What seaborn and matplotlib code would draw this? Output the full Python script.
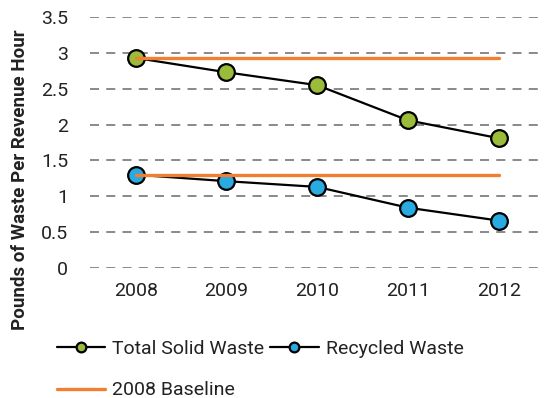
import numpy as np
import pandas as pd
import matplotlib
matplotlib.use("Agg")
import matplotlib.pyplot as plt
import seaborn as sns

years = ["2008", "2009", "2010", "2011", "2012"]
total_solid = [2.93, 2.73, 2.55, 2.06, 1.81]
recycled = [1.30, 1.21, 1.13, 0.84, 0.66]
baseline_total = [2.93] * 5
baseline_recycled = [1.30] * 5
y_ticks = [0, 0.5, 1, 1.5, 2, 2.5, 3, 3.5]
y_tick_labels = ["0", "0.5", "1", "1.5", "2", "2.5", "3", "3.5"]

GREEN = "#9BBB3A"
BLUE = "#29ABE2"
ORANGE = "#F07F33"
TXT = "#222222"

sns.set_theme(style="white")
plt.rcParams['font.family'] = ['Roboto', 'DejaVu Sans']

df = pd.DataFrame({
    "pos": np.arange(len(years)),
    "total": total_solid,
    "recycled": recycled,
    "base_t": baseline_total,
    "base_r": baseline_recycled,
})

fig = plt.figure(figsize=(5.44, 3.98), dpi=100)
ax = fig.add_axes([0.166, 0.327, 0.834, 0.630])

# dashed gridlines
for yv in y_ticks:
    ax.axhline(yv, color="#808080", lw=1.3, ls=(0, (5, 4)), zorder=0)

# 2008 baselines
sns.lineplot(data=df, x="pos", y="base_t", color=ORANGE, lw=2.4, ax=ax,
             label="2008 Baseline", zorder=2)
sns.lineplot(data=df, x="pos", y="base_r", color=ORANGE, lw=2.4, ax=ax,
             label="_nolegend_", zorder=2)

# waste series
sns.lineplot(data=df, x="pos", y="total", color="black", lw=1.6, marker="o",
             markersize=12, markerfacecolor=GREEN, markeredgecolor="black",
             markeredgewidth=1.6, ax=ax, label="Total Solid Waste", zorder=1)
sns.lineplot(data=df, x="pos", y="recycled", color="black", lw=1.6, marker="o",
             markersize=12, markerfacecolor=BLUE, markeredgecolor="black",
             markeredgewidth=1.6, ax=ax, label="Recycled Waste", zorder=1)

ax.set_xlim(-0.5, 4.5)
ax.set_ylim(0, 3.5)
ax.set_xticks(np.arange(len(years)))
ax.set_xticklabels(years, fontsize=14, color=TXT)
ax.set_yticks(y_ticks)
ax.set_yticklabels(y_tick_labels, fontsize=14, color=TXT)
ax.tick_params(axis="both", length=0)
ax.tick_params(axis="x", pad=10)
ax.tick_params(axis="y", pad=16)
ax.set_xlabel("")
ax.set_ylabel("Pounds of Waste Per Revenue Hour", fontsize=13.5, fontweight="bold",
              color=TXT)
ax.yaxis.set_label_coords(-0.135, 0.35)
for s in ax.spines.values():
    s.set_visible(False)

# legend: row-wise order with two columns
handles, labels = ax.get_legend_handles_labels()
order = [labels.index("Total Solid Waste"), labels.index("2008 Baseline"),
         labels.index("Recycled Waste")]
ax.get_legend().remove()
leg = fig.legend([handles[i] for i in order], [labels[i] for i in order],
                 ncol=2, loc="upper left", bbox_to_anchor=(0.09, 0.165),
                 frameon=False, fontsize=14, handlelength=2.5, handletextpad=0.35,
                 columnspacing=0.3, labelspacing=1.2, borderaxespad=0)
for h in leg.legend_handles:
    h.set_markersize(7)
for t in leg.get_texts():
    t.set_color(TXT)

fig.savefig("out.png", dpi=100)
